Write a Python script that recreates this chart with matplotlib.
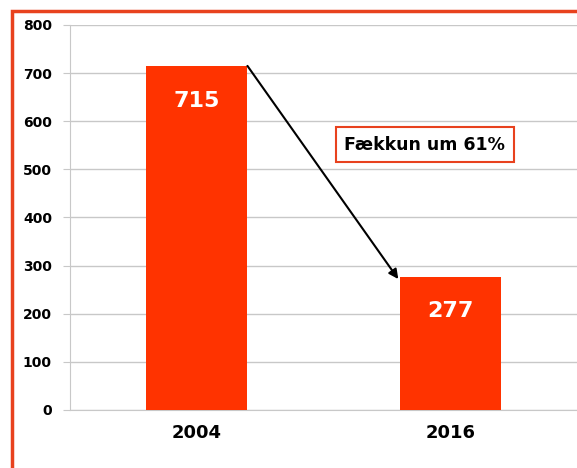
import matplotlib.pyplot as plt
from matplotlib.patches import Rectangle

years = ["2004", "2016"]
values = [715, 277]
yticks = [0, 100, 200, 300, 400, 500, 600, 700, 800]
note = "Fækkun um 61%"

bar_color = "#FF3300"
frame_color = "#E8421E"
grid_color = "#C8C8C8"

plt.rcParams['font.family'] = ['DejaVu Sans']

fig = plt.figure(figsize=(5.77, 4.68), dpi=100)
ax = fig.add_axes([0.1213, 0.124, 0.8787, 0.8226])

x = list(range(len(years)))
ax.bar(x, values, width=0.4, color=bar_color, zorder=3)

ax.set_xlim(-0.5, 1.5)
ax.set_ylim(0, 800)
ax.set_yticks(yticks)
ax.set_yticklabels([str(t) for t in yticks], fontsize=10, fontweight='bold')
ax.set_xticks(x)
ax.set_xticklabels(years, fontsize=13, fontweight='bold')
ax.tick_params(axis='x', length=0, pad=10)
ax.tick_params(axis='y', length=5, color=grid_color, pad=8)

ax.grid(axis='y', color=grid_color, lw=1, zorder=0)
for s in ['top', 'right']:
    ax.spines[s].set_visible(False)
ax.spines['left'].set_color(grid_color)
ax.spines['bottom'].set_color(grid_color)

# labels inside bars
for xi, v in zip(x, values):
    ax.annotate(str(v), (xi, v), xytext=(0, -25), textcoords='offset points',
                ha='center', va='center', color='white', fontsize=16,
                fontweight='bold', zorder=5)

# arrow between bar tops
ax.annotate("", xy=(0.795, 272), xytext=(0.2, 715),
            arrowprops=dict(arrowstyle='-|>', color='black', lw=1.5,
                            mutation_scale=14, shrinkA=0, shrinkB=0),
            zorder=6)

ax.text(0.9, 551, note, ha='center', va='center', fontsize=12.5,
        fontweight='bold', zorder=6,
        bbox=dict(boxstyle='square,pad=0.5', fc='white', ec=frame_color, lw=1.5))

# outer frame, clipped at the right and bottom edge
fig.patches.append(Rectangle((12 / 577, -0.1), 1.2, 1 - 11 / 468 + 0.1,
                             transform=fig.transFigure, fill=False,
                             ec=frame_color, lw=2.5))

fig.savefig("out.png", dpi=100)
